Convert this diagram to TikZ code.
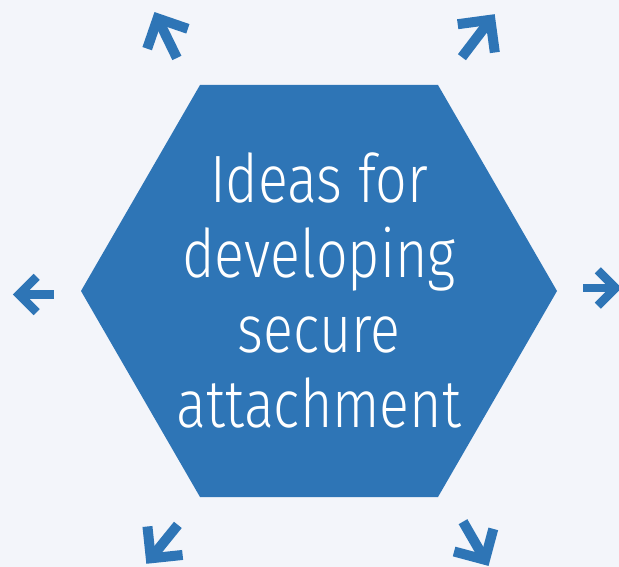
\documentclass[tikz,border=0pt]{standalone}
\usepackage{fontspec}
\newfontfamily\hexfont{Fira Sans Light}[FakeStretch=0.83]
\definecolor{hexblue}{RGB}{46,117,182}
\definecolor{bgcol}{RGB}{243,245,250}
\newcommand\chevarrow[5]{%
  \begin{scope}[shift={#1}, rotate=#2]
    \draw[chevline, line width=#5] (135:#4) -- (0,0) -- (-135:#4);
    \draw[chevline, line width=#5, line cap=butt] (0,0) -- (-#3,0);
  \end{scope}}
\begin{document}
\begin{tikzpicture}[x=1pt,y=-1pt,
  chevline/.style={draw=hexblue, line join=miter, miter limit=10},
  hexlabel/.style={text=white, align=center, inner sep=0pt,
    font=\hexfont\fontsize{67}{75}\selectfont}]
  \fill[bgcol] (0,0) rectangle (619,567);
  \useasboundingbox (0,0) rectangle (619,567);
  % hexagon
  \fill[hexblue] (200,85) -- (438,85) -- (557,291) -- (438,497) -- (200,497) -- (81,291) -- cycle;
  \node[hexlabel] (hex) at (319,290.5) {Ideas for\\developing\\secure\\attachment};
  % arrows
  \chevarrow{(157.6,18.4)}{116}{44}{32}{10pt}
  \chevarrow{(490.4,19.8)}{52.7}{47}{33}{10pt}
  \chevarrow{(150.8,558.3)}{231}{43}{32}{10pt}
  \chevarrow{(485,559.8)}{300}{44}{32}{10pt}
  \chevarrow{(19,294.5)}{180}{35}{25}{8.5pt}
  \chevarrow{(615.5,288)}{0}{32.5}{25}{8.5pt}
\end{tikzpicture}
\end{document}
